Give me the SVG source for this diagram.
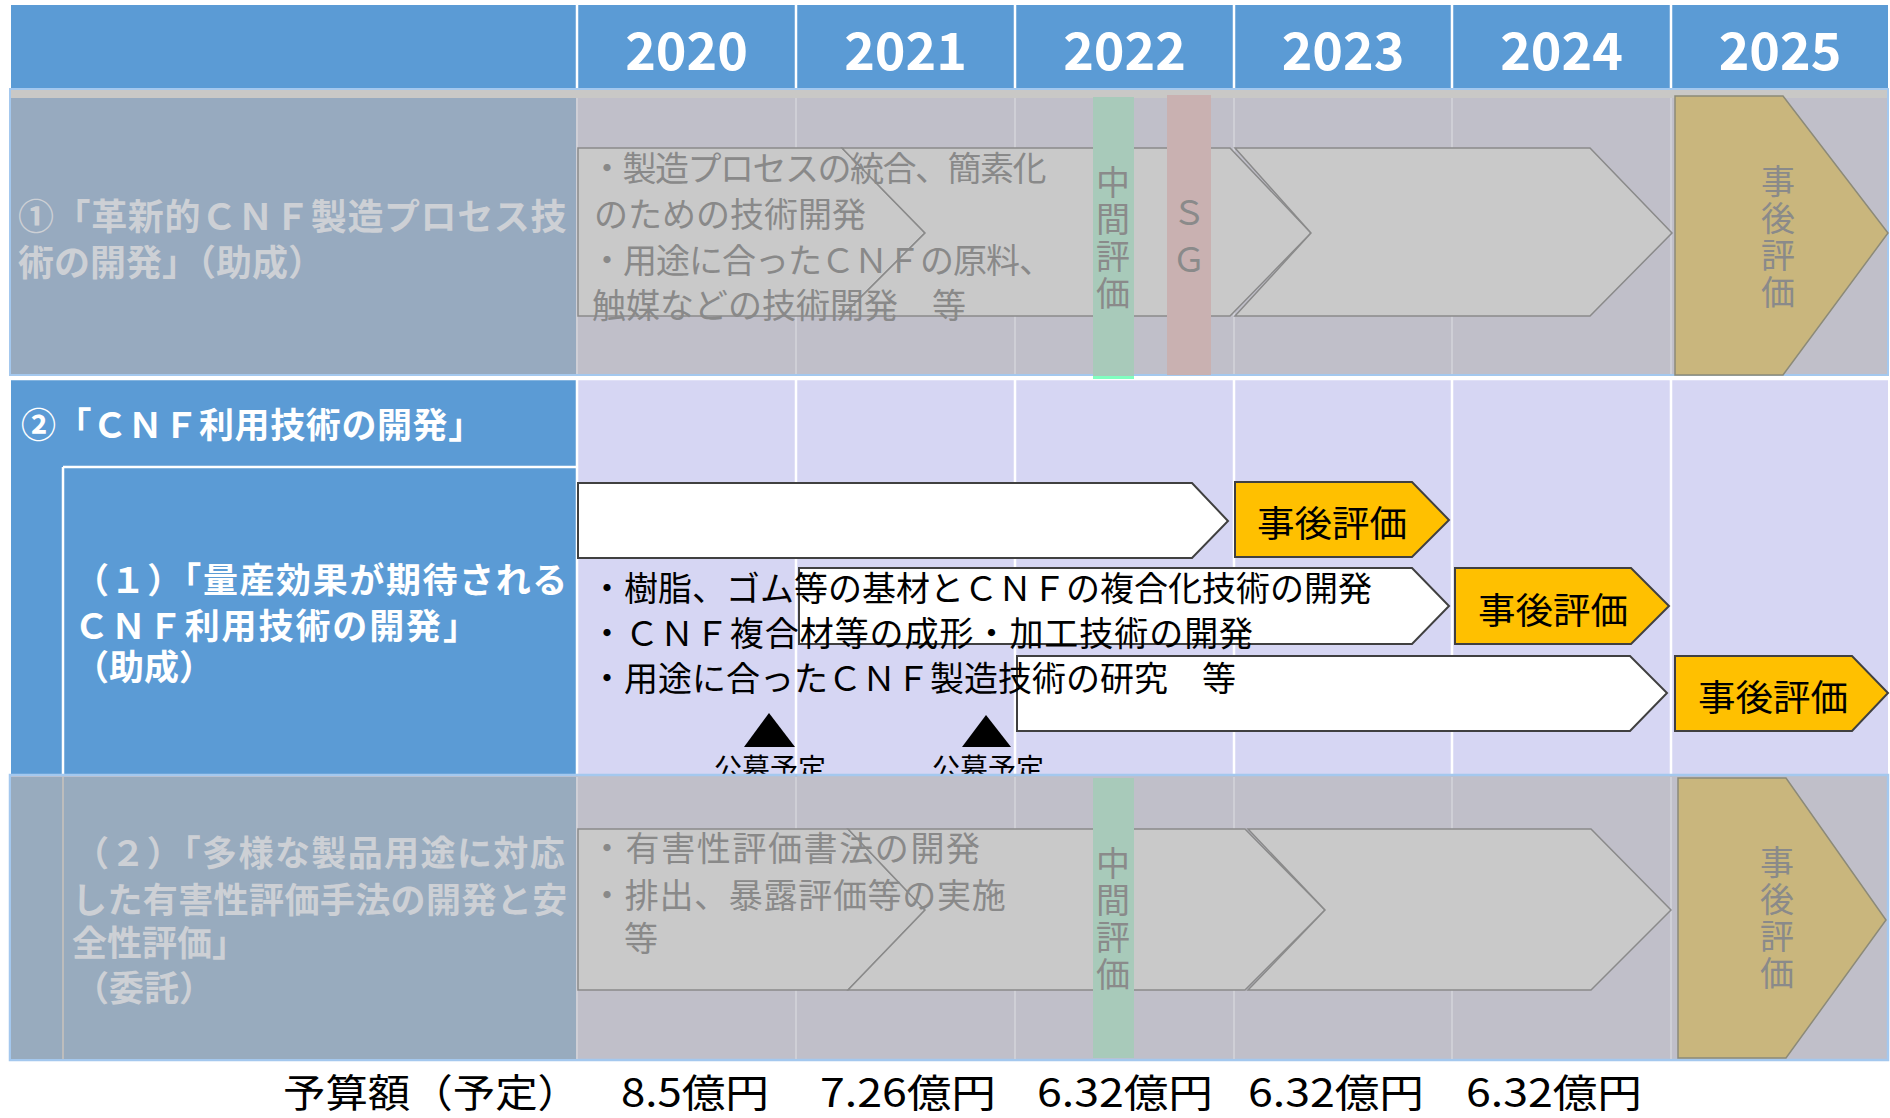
<svg xmlns="http://www.w3.org/2000/svg" width="1890" height="1118" viewBox="0 0 1890 1118">
<defs>
<style>
text{font-family:"Noto Sans CJK JP","Noto Sans",sans-serif;}
.yr{font-size:52px;font-weight:bold;fill:#fff;text-anchor:middle;}
.hw{font-size:35px;font-weight:bold;fill:#fff;}
.hg{font-size:35px;font-weight:bold;fill:#CDD0D5;}
.gt{font-size:34px;fill:#898989;}
.bt{font-size:34px;fill:#000;}
.vt{font-size:34px;fill:#8A8A8A;writing-mode:vertical-rl;letter-spacing:3px;}
.ev{font-size:36px;fill:#000;}
.pub{font-size:28px;fill:#000;text-anchor:middle;}
.bud{font-size:39px;fill:#000;}
.gshape{fill:#C9C9C9;stroke:#8A8A8A;stroke-width:1.5;}
.wshape{fill:#fff;stroke:#404040;stroke-width:2;}
.yshape{fill:#FFC000;stroke:#404040;stroke-width:2;}
.oshape{fill:#C9B67D;stroke:#8C8A78;stroke-width:1.5;}
.wl{stroke:#fff;stroke-width:2.5;}
.fl{stroke:#CFCFD6;stroke-width:2;}
</style>
</defs>
<rect width="1890" height="1118" fill="#fff"/>

<g id="header">
<rect x="11" y="5" width="1877" height="83" fill="#5B9BD5"/>
<line class="wl" x1="577" y1="5" x2="577" y2="88"/>
<line class="wl" x1="796" y1="5" x2="796" y2="88"/>
<line class="wl" x1="1015" y1="5" x2="1015" y2="88"/>
<line class="wl" x1="1234" y1="5" x2="1234" y2="88"/>
<line class="wl" x1="1452" y1="5" x2="1452" y2="88"/>
<line class="wl" x1="1671" y1="5" x2="1671" y2="88"/>
<text class="yr" x="686.5" y="70">2020</text>
<text class="yr" x="905.5" y="70">2021</text>
<text class="yr" x="1124.5" y="70">2022</text>
<text class="yr" x="1343" y="70">2023</text>
<text class="yr" x="1561.5" y="70">2024</text>
<text class="yr" x="1780" y="70">2025</text>
</g>

<g id="row2">
<rect x="11" y="380" width="1877" height="394" fill="#D6D6F3"/>
<rect x="11" y="380" width="566" height="394" fill="#5B9BD5"/>
<line class="wl" x1="11" y1="379" x2="1888" y2="379"/>
<line class="wl" x1="577" y1="380" x2="577" y2="774"/>
<line class="wl" x1="796" y1="380" x2="796" y2="774"/>
<line class="wl" x1="1015" y1="380" x2="1015" y2="774"/>
<line class="wl" x1="1234" y1="380" x2="1234" y2="774"/>
<line class="wl" x1="1452" y1="380" x2="1452" y2="774"/>
<line class="wl" x1="1671" y1="380" x2="1671" y2="774"/>
<line class="wl" x1="63" y1="467" x2="577" y2="467"/>
<line class="wl" x1="63" y1="467" x2="63" y2="774"/>
<text class="hw" x="21" y="438" style="letter-spacing:0.6px">②「ＣＮＦ利用技術の開発」</text>
<text class="hw"><tspan x="74" y="593" style="letter-spacing:1.6px">（１）「量産効果が期待される</tspan><tspan x="74" y="639" style="letter-spacing:1.9px">ＣＮＦ利用技術の開発」</tspan><tspan x="74" y="680">（助成）</tspan></text>
</g>

<g id="row2-bars">
<polygon class="wshape" points="578,483 1192,483 1228,521 1192,558 578,558"/>
<polygon class="wshape" points="799,568 1412,568 1449,606 1412,644 799,644"/>
<polygon class="wshape" points="1017,656 1630,656 1667,693 1630,731 1017,731"/>
<text class="bt"><tspan x="590" y="601">・樹脂、ゴム等の基材とＣＮＦの複合化技術の開発</tspan><tspan x="590" y="646" style="letter-spacing:0.95px">・ＣＮＦ複合材等の成形・加工技術の開発</tspan><tspan x="590" y="691">・用途に合ったＣＮＦ製造技術の研究　等</tspan></text>
</g>

<g id="row2-eval1">
<polygon class="yshape" points="1235,482 1412,482 1449,520 1412,557 1235,557"/>
<text class="ev" x="1257" y="537" textLength="150" lengthAdjust="spacingAndGlyphs">事後評価</text>
</g>
<g id="row2-eval2">
<polygon class="yshape" points="1455,568 1631,568 1669,606 1631,644 1455,644"/>
<text class="ev" x="1478" y="624" textLength="150" lengthAdjust="spacingAndGlyphs">事後評価</text>
</g>
<g id="row2-eval3">
<polygon class="yshape" points="1675,656 1852,656 1888,693 1852,731 1675,731"/>
<text class="ev" x="1698" y="711" textLength="150" lengthAdjust="spacingAndGlyphs">事後評価</text>
</g>

<g id="koubo1">
<polygon points="769,713 744,747 795,747" fill="#000"/>
<text class="pub" x="770" y="779">公募予定</text>
</g>
<g id="koubo2">
<polygon points="986,715 962,747 1011,747" fill="#000"/>
<text class="pub" x="988" y="779">公募予定</text>
</g>

<g id="row1">
<rect x="10" y="89" width="1878" height="286" fill="#C0BFC9" stroke="#A4C8EE" stroke-width="2"/>
<rect x="11" y="90" width="1876" height="8" fill="#C9C8C6"/>
<rect x="11" y="98" width="566" height="276" fill="#97AABF"/>
<line class="fl" x1="577" y1="98" x2="577" y2="374"/>
<line class="fl" x1="796" y1="98" x2="796" y2="374"/>
<line class="fl" x1="1015" y1="98" x2="1015" y2="374"/>
<line class="fl" x1="1234" y1="98" x2="1234" y2="374"/>
<line class="fl" x1="1452" y1="98" x2="1452" y2="374"/>
<line class="fl" x1="1671" y1="98" x2="1671" y2="374"/>
<text class="hg" style="font-size:36px"><tspan x="18" y="230" style="letter-spacing:0.6px">①「革新的ＣＮＦ製造プロセス技</tspan><tspan x="18" y="276">術の開発」（助成）</tspan></text>
<polygon class="gshape" points="578,148 842,148 925,233 842,316 578,316"/>
<polygon class="gshape" points="842,148 1230,148 1311,233 1230,316 842,316 925,233"/>
<polygon class="gshape" points="1235,148 1590,148 1672,233 1590,316 1235,316 1311,233"/>
<text class="gt"><tspan x="590" y="181" style="letter-spacing:-1.5px">・製造プロセスの統合、簡素化</tspan><tspan x="594" y="227">のための技術開発</tspan><tspan x="590" y="273" style="letter-spacing:-1px">・用途に合ったＣＮＦの原料、</tspan><tspan x="592" y="318">触媒などの技術開発　等</tspan></text>
</g>

<g id="row1-mid">
<rect x="1093" y="97" width="41" height="279" fill="#A8CABA"/>
<rect x="1093" y="376" width="41" height="3" fill="#80FFC0"/>
<text class="vt" x="1113" y="165">中間評価</text>
</g>
<g id="row1-sg">
<rect x="1167" y="95" width="44" height="280" fill="#C9B1B1"/>
<text class="vt" x="1189" y="196" style="letter-spacing:13px">ＳＧ</text>
</g>
<g id="row1-post">
<polygon class="oshape" points="1675,96 1783,96 1888,233 1783,375 1675,375"/>
<text class="vt" x="1778" y="164">事後評価</text>
</g>

<g id="row3">
<rect x="10" y="775" width="1878" height="285" fill="#C0BFC9" stroke="#A4C8EE" stroke-width="2.5"/>
<rect x="11" y="777" width="52" height="282" fill="#98ABBE"/>
<rect x="64" y="777" width="513" height="282" fill="#98ABBE"/>
<line x1="63" y1="777" x2="63" y2="1059" stroke="#BDBDBD" stroke-width="2"/>
<line class="fl" x1="577" y1="777" x2="577" y2="1059"/>
<line class="fl" x1="796" y1="777" x2="796" y2="1059"/>
<line class="fl" x1="1015" y1="777" x2="1015" y2="1059"/>
<line class="fl" x1="1234" y1="777" x2="1234" y2="1059"/>
<line class="fl" x1="1452" y1="777" x2="1452" y2="1059"/>
<line class="fl" x1="1671" y1="777" x2="1671" y2="1059"/>
<text class="hg"><tspan x="74" y="866" style="letter-spacing:1.4px">（２）「多様な製品用途に対応</tspan><tspan x="72" y="913" style="letter-spacing:0.4px">した有害性評価手法の開発と安</tspan><tspan x="72" y="956">全性評価」</tspan><tspan x="74" y="1001">（委託）</tspan></text>
<polygon class="gshape" points="578,829 848,829 925,910 848,990 578,990"/>
<polygon class="gshape" points="848,829 1245,829 1325,910 1245,990 848,990 925,910"/>
<polygon class="gshape" points="1248,829 1591,829 1671,910 1591,990 1248,990 1325,910"/>
<text class="gt"><tspan x="590" y="861" style="letter-spacing:1.6px">・有害性評価書法の開発</tspan><tspan x="590" y="908" style="letter-spacing:0.7px">・排出、暴露評価等の実施</tspan><tspan x="590" y="951">　等</tspan></text>
</g>

<g id="row3-mid">
<rect x="1093" y="778" width="41" height="280" fill="#A8CABA"/>
<text class="vt" x="1113" y="846">中間評価</text>
</g>
<g id="row3-post">
<polygon class="oshape" points="1678,778 1786,778 1886,920 1786,1058 1678,1058"/>
<text class="vt" x="1777" y="845">事後評価</text>
</g>

<g id="budget">
<text class="bud" x="283" y="1107" textLength="297" lengthAdjust="spacingAndGlyphs">予算額（予定）</text>
<text class="bud" x="621" y="1107" textLength="148" lengthAdjust="spacingAndGlyphs">8.5億円</text>
<text class="bud" x="820" y="1107" textLength="176" lengthAdjust="spacingAndGlyphs">7.26億円</text>
<text class="bud" x="1037" y="1107" textLength="176" lengthAdjust="spacingAndGlyphs">6.32億円</text>
<text class="bud" x="1248" y="1107" textLength="176" lengthAdjust="spacingAndGlyphs">6.32億円</text>
<text class="bud" x="1466" y="1107" textLength="176" lengthAdjust="spacingAndGlyphs">6.32億円</text>
</g>

<g id="connectors"></g>
</svg>
